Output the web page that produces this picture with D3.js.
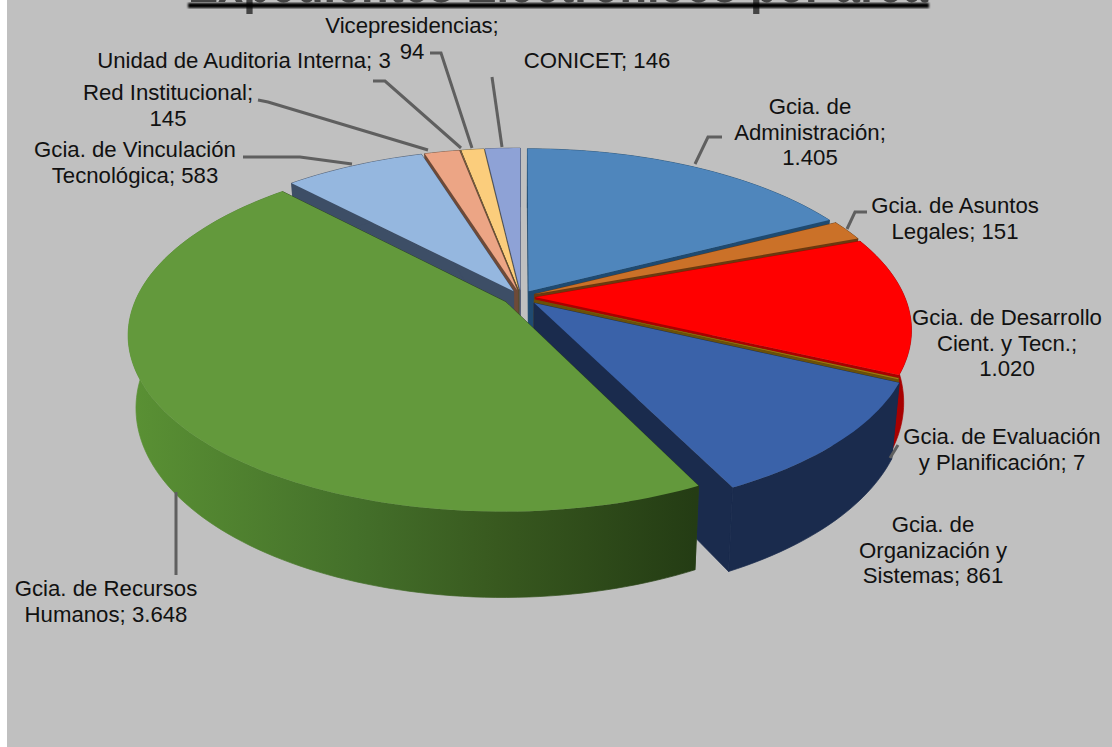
<!DOCTYPE html>
<html>
<head>
<meta charset="utf-8">
<script src="https://cdn.jsdelivr.net/npm/d3@7"></script>
<style>
  html, body { margin: 0; padding: 0; background: #fff; overflow: hidden; }
  text { font-family: "Liberation Sans", Arial, sans-serif; fill: #111; }
</style>
</head>
<body>
<div id="chart"></div>
<script>
// DATA
const categories = ["Gcia. de Administración", "Gcia. de Asuntos Legales", "Gcia. de Desarrollo Cient. y Tecn.",
  "Gcia. de Evaluación y Planificación", "Gcia. de Organización y Sistemas", "Gcia. de Recursos Humanos",
  "Gcia. de Vinculación Tecnológica", "Red Institucional", "Unidad de Auditoria Interna", "Vicepresidencias", "CONICET"];
const values = [1405, 151, 1020, 7, 861, 3648, 583, 145, 3, 94, 146];
const title = "Expedientes Electrónicos por área";

// label text, one entry per line
const labelLines = [
  ["Gcia. de", "Administración;", "1.405"],
  ["Gcia. de Asuntos", "Legales; 151"],
  ["Gcia. de Desarrollo", "Cient. y Tecn.;", "1.020"],
  ["Gcia. de Evaluación", "y Planificación; 7"],
  ["Gcia. de", "Organización y", "Sistemas; 861"],
  ["Gcia. de Recursos", "Humanos; 3.648"],
  ["Gcia. de Vinculación", "Tecnológica; 583"],
  ["Red Institucional;", "145"],
  ["Unidad de Auditoria Interna; 3"],
  ["Vicepresidencias;", "94"],
  ["CONICET; 146"]
];

// STYLE
const topColors = ["#4f86bc", "#cb7128", "#ff0000", "#a57a10", "#3a62a9", "#63993c", "#95b7df", "#eca585", "#8a6a50", "#fbcd7c", "#8ea2d6"];
const wallColors = ["#1f4a70", "#6a3a10", "#a80000", "#6a5008", "#1a2b4d", "#2a4418", "#3d4e66", "#6e4a38", "#5a4a30", "#6a5a30", "#4a5570"];
const explode = [0.04, 0.04, 0.04, 0.04, 0.05, 0.05, 0.04, 0.04, 0.04, 0.04, 0.04];
const labelX = [810, 955, 1007, 1002, 933, 106, 135, 168, 244, 412, 597];
const labelY = [114, 213, 325, 444, 532, 596, 157, 100, 68, 33, 68];
const lineGap = 25.5;
const leaders = [
  [[722, 137], [708, 137], [695, 164]],
  [[867, 212], [855, 212], [847, 229]],
  [],
  [[898, 445], [890, 458]],
  [],
  [[176, 492], [176, 575]],
  [[243, 157], [300, 157], [352, 164]],
  [[258, 100], [268, 102], [428, 150]],
  [[373, 81], [385, 81], [461, 148]],
  [[430, 53], [441, 53], [472, 148]],
  [[492, 77], [502, 147]]
];
const drawOrder = [10, 9, 8, 7, 6, 0, 1, 2, 3, 4, 5];

const width = 1112, height = 747;
const settings = { cx: 521, cy: 297, rx: 369, ry: 170, persp: 0.18, depth: 70, taper: 0.02 };

const svg = d3.select("#chart").append("svg").attr("width", width).attr("height", height)
  .style("display", "block");

const defs = svg.append("defs");
const grad = defs.append("linearGradient").attr("id", "greenWall")
  .attr("gradientUnits", "userSpaceOnUse").attr("x1", 130).attr("x2", 695).attr("y1", 0).attr("y2", 0);
grad.append("stop").attr("offset", "0%").attr("stop-color", "#5a9134");
grad.append("stop").attr("offset", "40%").attr("stop-color", "#44702a");
grad.append("stop").attr("offset", "65%").attr("stop-color", "#38591f");
grad.append("stop").attr("offset", "100%").attr("stop-color", "#243c14");
const blur = defs.append("filter").attr("id", "soft");
blur.append("feGaussianBlur").attr("stdDeviation", 0.8);

svg.append("rect").attr("x", 7).attr("width", width - 7).attr("height", height).attr("fill", "#c0c0c0");

// clipped title, only its foot shows at the top of the slide
svg.append("text").attr("x", 558).attr("y", 2).attr("text-anchor", "middle")
  .attr("textLength", 740).attr("lengthAdjust", "spacingAndGlyphs")
  .style("font-size", "58px").style("font-weight", "bold").style("fill", "#444").text(title);
svg.append("rect").attr("x", 188).attr("y", 3).attr("width", 741).attr("height", 5).attr("fill", "#000").attr("filter", "url(#soft)");

const pie = d3.pie().sort(null).value(d => d);
const arcs = pie(values);

// ground plane -> screen, v grows toward the viewer, z=1 is the underside
function project(theta, r, z, ou, ov) {
  const u = Math.sin(theta) * r + ou;
  const v = -Math.cos(theta) * r + ov;
  const s = 1 / (1 - settings.persp * v);
  return [settings.cx + settings.rx * u * s * (1 - settings.taper * z),
    settings.cy + settings.ry * v * s + settings.depth * z * s];
}

const line = d3.line();

function slicePaths(a, e) {
  const mid = (a.startAngle + a.endAngle) / 2;
  const ou = Math.sin(mid) * e, ov = -Math.cos(mid) * e;
  const steps = d3.range(0, 1.0001, 1 / Math.max(2, Math.ceil((a.endAngle - a.startAngle) * 40)));
  const angles = steps.map(d3.interpolateNumber(a.startAngle, a.endAngle));
  const rim = z => angles.map(t => project(t, 1, z, ou, ov));
  const apex = z => project(0, 0, z, ou, ov);
  return {
    top: line([apex(0), ...rim(0)]) + "Z",
    outer: line([...rim(0), ...rim(1).reverse()]) + "Z",
    startFace: line([apex(0), rim(0)[0], rim(1)[0], apex(1)]) + "Z",
    endFace: line([apex(0), rim(0)[angles.length - 1], rim(1)[angles.length - 1], apex(1)]) + "Z"
  };
}

const slices = svg.append("g").selectAll("g").data(drawOrder).join("g");
slices.each(function (i) {
  const p = slicePaths(arcs[i], explode[i]);
  const g = d3.select(this);
  const wall = i === 5 ? "url(#greenWall)" : wallColors[i];
  g.append("path").attr("d", p.startFace).attr("fill", wallColors[i]).attr("stroke", wallColors[i]).attr("stroke-width", 0.7);
  g.append("path").attr("d", p.endFace).attr("fill", wallColors[i]).attr("stroke", wallColors[i]).attr("stroke-width", 0.7);
  g.append("path").attr("d", p.outer).attr("fill", wall).attr("stroke", wall).attr("stroke-width", 0.7);
  g.append("path").attr("d", p.top).attr("fill", topColors[i]);
});

// leader lines
svg.append("g").selectAll("path").data(leaders.filter(d => d.length)).join("path")
  .attr("d", d => line(d)).attr("fill", "none").attr("stroke", "#5f5f5f").attr("stroke-width", 3);

// labels
const labels = svg.append("g").selectAll("text").data(labelLines).join("text")
  .attr("text-anchor", "middle").style("font-size", "22.2px");
labels.selectAll("tspan").data((d, i) => d.map((t, j) => ({ t, j, i }))).join("tspan")
  .attr("x", d => labelX[d.i])
  .attr("y", d => labelY[d.i] + d.j * lineGap)
  .text(d => d.t);
</script>
</body>
</html>
